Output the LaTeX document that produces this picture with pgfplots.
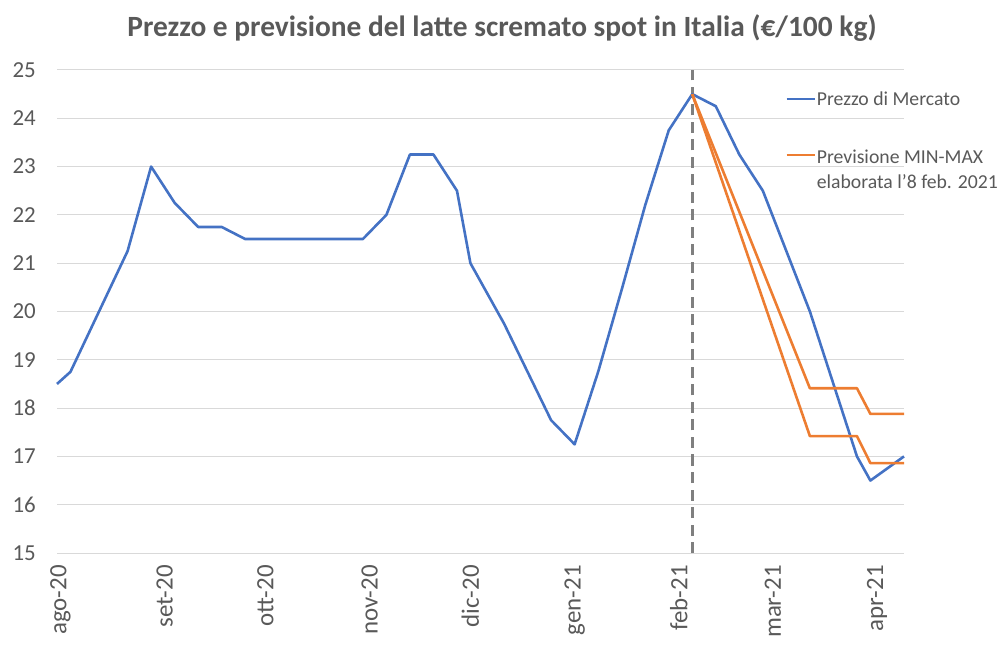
\documentclass[border=0pt]{standalone}
\usepackage{fontspec}
\setmainfont{Carlito}
\usepackage{pgfplots}
\pgfplotsset{compat=1.18}
\definecolor{cblue}{HTML}{4472C4}
\definecolor{corange}{HTML}{ED7D31}
\definecolor{cgrid}{HTML}{D9D9D9}
\definecolor{ctext}{HTML}{595959}
\definecolor{cdash}{HTML}{7F7F7F}
\begin{document}
\begin{tikzpicture}
\useasboundingbox (-57bp,-101bp) rectangle (947bp,553bp);
\begin{axis}[
  scale only axis,
  width=847bp, height=483bp,
  xmin=-1, xmax=251, ymin=15, ymax=25,
  clip=false,
  axis line style={draw=none},
  major tick length=0pt,
  ymajorgrids,
  grid style={cgrid, line width=1bp},
  ytick={15,16,...,25},
  xtick={0,31,61,92,122,153,184,212,243},
  xticklabels={ago-20,set-20,ott-20,nov-20,dic-20,gen-21,feb-21,mar-21,apr-21},
  /pgf/number format/assume math mode=true,
  yticklabel style={font=\fontsize{23}{27}\selectfont, text=ctext, anchor=east, inner sep=0pt, xshift=-21bp},
  xticklabel style={font=\fontsize{25}{29}\selectfont, text=ctext, rotate=90, anchor=east, inner sep=0pt, xshift=-12bp},
  title={Prezzo e previsione del latte scremato spot in Italia (€/100 kg)},
  title style={font=\fontsize{29.5}{34}\selectfont\bfseries, text=ctext, anchor=base, at={(0.5,1)}, yshift=28bp, xshift=21.5bp},
  legend style={draw=none, fill=none, at={(0.8595,0.958)}, anchor=north west, inner sep=0pt, row sep=37bp,
    font=\fontsize{19.8}{25}\selectfont, text=ctext, cells={anchor=west}, nodes={inner sep=1bp}},
  legend image code/.code={\draw[#1] (0bp,0bp) -- (28bp,0bp);},
]
\addplot[cdash, line width=2.5bp, dash pattern=on 11bp off 6.5bp, forget plot] coordinates {(188,15) (188,25)};
\addplot[cblue, line width=2.6bp, line join=round] coordinates {
(-1,18.5) (3,18.75) (20,21.25) (27,23.0) (34,22.25) (41,21.75) (48,21.75) (55,21.5)
(62,21.5) (69,21.5) (76,21.5) (83,21.5) (90,21.5) (97,22.0) (104,23.25) (111,23.25)
(118,22.5) (122,21.0) (132,19.75) (146,17.75) (153,17.25) (160,18.75) (167,20.45)
(174,22.2) (181,23.75) (188,24.5) (195,24.25) (202,23.25) (209,22.5) (216,21.25)
(223,20.0) (230,18.5) (237,17.0) (241,16.5) (251,17.0)};
\addlegendentry{Prezzo di Mercato}
\addplot[corange, line width=2.6bp, line join=round] coordinates {
(188,24.5) (223,18.41) (237,18.41) (241,17.88) (251,17.88)};
\addlegendentry{\begin{tabular}[t]{@{}l@{}}Previsione MIN-MAX\\elaborata l'8 feb. 2021\end{tabular}}
\addplot[corange, line width=2.6bp, line join=round, forget plot] coordinates {
(188,24.5) (223,17.42) (237,17.42) (241,16.86) (251,16.86)};
\end{axis}
\end{tikzpicture}
\end{document}
